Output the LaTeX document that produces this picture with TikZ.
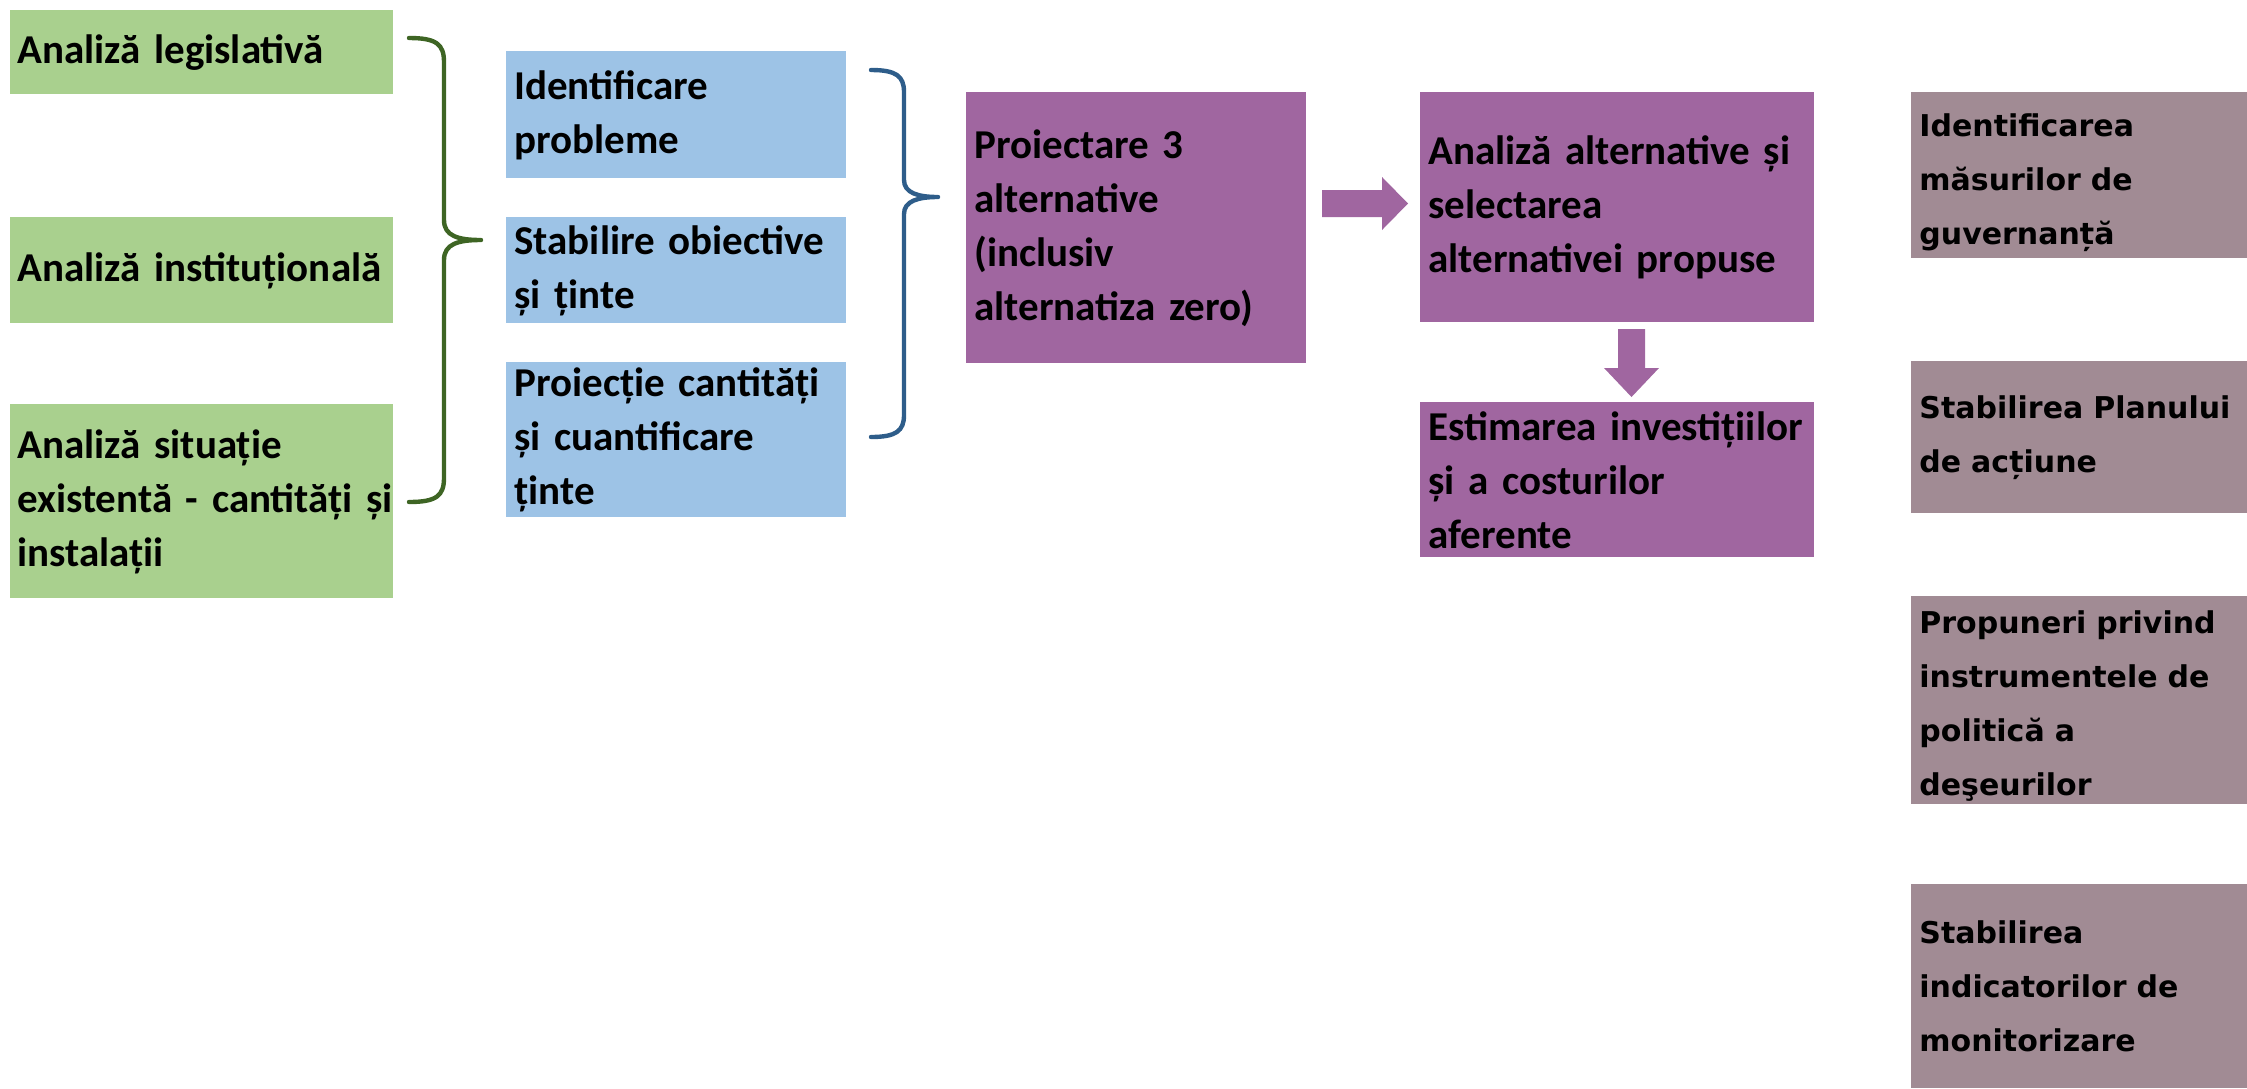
\documentclass[tikz,border=0pt]{standalone}
\usepackage{fontspec}
\setmainfont{Carlito}
\newfontfamily\rfont{DejaVu Sans}
\newcommand\bxl[1]{\mbox{#1}}
\definecolor{gfill}{HTML}{A9D08E}
\definecolor{bfill}{HTML}{9DC3E6}
\definecolor{pfill}{HTML}{A066A0}
\definecolor{rfill}{HTML}{A18B94}
\definecolor{gline}{HTML}{3E6524}
\definecolor{bline}{HTML}{2E5D8A}
\begin{document}
\begin{tikzpicture}[x=0.5pt,y=-0.5pt,
  bx/.style={rectangle, anchor=north west, inner xsep=4pt, inner ysep=0pt, align=left,
    font=\fontsize{20.5}{27}\selectfont\bfseries},
  gbox/.style={bx, fill=gfill, inner xsep=3.5pt},
  bbox/.style={bx, fill=bfill},
  pbox/.style={bx, fill=pfill},
  rbox/.style={bx, fill=rfill, font=\rfont\fontsize{15}{27}\selectfont\bfseries},
  brace/.style={line width=2.2pt, line cap=round, line join=round},
  blockarrow/.style={fill=pfill}]
\useasboundingbox (0,0) rectangle (2247,1088);

% green column
\node[gbox, minimum width=191.5pt, minimum height=42pt, text width=184.5pt] (g1) at (10,10)
  {\bxl{Analiză legislativă}};
\node[gbox, minimum width=191.5pt, minimum height=53pt, text width=184.5pt] (g2) at (10,217)
  {\bxl{Analiză instituțională}};
\node[gbox, minimum width=191.5pt, minimum height=97pt, text width=184.5pt] (g3) at (10,404)
  {\bxl{Analiză situație}\\\bxl{existentă - cantități și}\\\bxl{instalații}};

% blue column
\node[bbox, minimum width=170pt, minimum height=63.5pt, text width=162pt] (b1) at (506,51)
  {\bxl{Identificare}\\\bxl{probleme}};
\node[bbox, minimum width=170pt, minimum height=53pt, text width=162pt] (b2) at (506,217)
  {\bxl{Stabilire obiective}\\\bxl{și ținte}};
\node[bbox, minimum width=170pt, minimum height=77.5pt, text width=162pt] (b3) at (506,362)
  {\bxl{Proiecție cantități}\\\bxl{și cuantificare}\\\bxl{ținte}};

% purple boxes
\node[pbox, minimum width=170pt, minimum height=135.5pt, text width=162pt] (p1) at (966,92)
  {\bxl{Proiectare 3}\\\bxl{alternative}\\\bxl{(inclusiv}\\\bxl{alternatiza zero)}};
\node[pbox, minimum width=197pt, minimum height=115pt, text width=189pt] (p2) at (1420,92)
  {\bxl{Analiză alternative și}\\\bxl{selectarea}\\\bxl{alternativei propuse}};
\node[pbox, minimum width=197pt, minimum height=77.5pt, text width=189pt] (p3) at (1420,402)
  {\bxl{Estimarea investițiilor}\\\bxl{și a costurilor}\\\bxl{aferente}};

% right column
\node[rbox, minimum width=168pt, minimum height=83pt, text width=160pt] (r1) at (1911,92)
  {\rule{0pt}{19pt}\bxl{Identificarea}\\\bxl{măsurilor de}\\\bxl{guvernanță}};
\node[rbox, minimum width=168pt, minimum height=76pt, text width=160pt] (r2) at (1911,361)
  {\bxl{Stabilirea Planului}\\\bxl{de acțiune}};
\node[rbox, minimum width=168pt, minimum height=104pt, text width=160pt] (r3) at (1911,596)
  {\rule{0pt}{17pt}\bxl{Propuneri privind}\\\bxl{instrumentele de}\\\bxl{politică a}\\\bxl{deşeurilor}};
\node[rbox, minimum width=168pt, minimum height=102pt, text width=160pt] (r4) at (1911,884)
  {\bxl{Stabilirea}\\\bxl{indicatorilor de}\\\bxl{monitorizare}};

% green brace
\coordinate (gtop) at (409,38);
\coordinate (gtip) at (481,240);
\coordinate (gbot) at (409,502);
\draw[brace, gline] (gtop) .. controls (436,38) and (444,44) .. (444,62) -- (444,220)
  .. controls (444,236) and (458,240) .. (gtip)
  .. controls (458,240) and (444,244) .. (444,260) -- (444,478)
  .. controls (444,496) and (436,502) .. (gbot);

% blue brace
\coordinate (btop) at (871,70);
\coordinate (btip) at (938,197);
\coordinate (bbot) at (871,437);
\draw[brace, bline] (btop) .. controls (896,70) and (904,76) .. (904,92) -- (904,180)
  .. controls (904,193) and (918,197) .. (btip)
  .. controls (918,197) and (904,201) .. (904,214) -- (904,415)
  .. controls (904,431) and (896,437) .. (bbot);

% block arrows
\fill[blockarrow] (1322,190) -- (1382,190) -- (1382,177) -- (1408,203.5) -- (1382,230)
  -- (1382,217) -- (1322,217) -- cycle;
\fill[blockarrow] (1618,329) -- (1645,329) -- (1645,368) -- (1659,368) -- (1631.5,397)
  -- (1604,368) -- (1618,368) -- cycle;
\end{tikzpicture}
\end{document}
